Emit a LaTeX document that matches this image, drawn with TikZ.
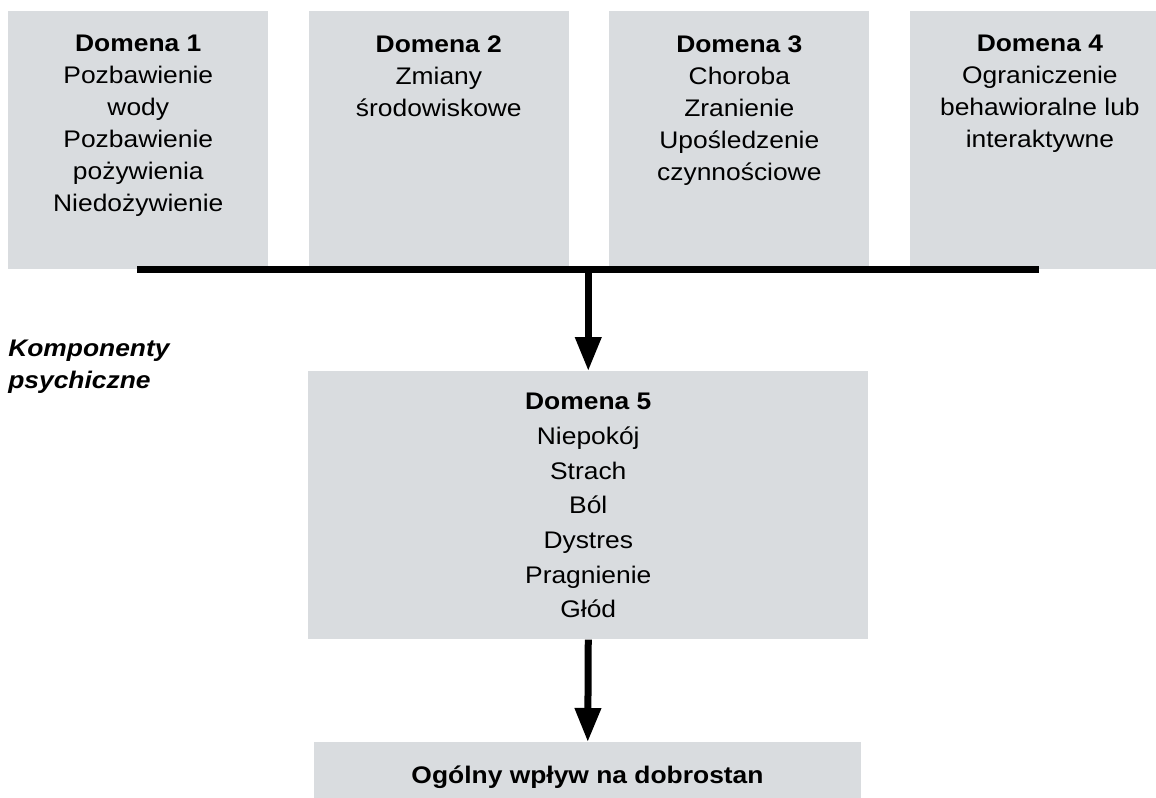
\documentclass[tikz,border=0pt]{standalone}
\usepackage{fontspec}
\setmainfont[FakeStretch=1.1]{Liberation Sans}
\usetikzlibrary{positioning,arrows.meta}
\definecolor{boxgray}{RGB}{217,220,223}

\begin{document}
\begin{tikzpicture}[
  x=0.75pt, y=-0.75pt,
  node distance=30pt and 30pt,
  dombox/.style={fill=boxgray,minimum width=195pt,minimum height=193.5pt,inner sep=0pt,anchor=north west},
  domtext/.style={align=center,inner sep=0pt,anchor=north,font=\fontsize{18pt}{24pt}\selectfont},
  flow/.style={line width=5.25pt},
  flowarrow/.style={line width=5.25pt,-{Triangle[width=18.75pt,length=25.5pt]}}
]
\useasboundingbox (0,0) rectangle (1156,797);
% top row
\node[dombox] (d1) at (8,11) {};
\node[dombox, right=of d1] (d2) {};
\node[dombox, right=of d2] (d3) {};
\node[dombox, right=of d3] (d4) {};
\node[domtext, below=18pt of d1.north] (t1) {\textbf{Domena 1}\\Pozbawienie\\wody\\Pozbawienie\\pożywienia\\Niedożywienie};
\node[domtext, below=18pt of d2.north] (t2) {\textbf{Domena 2}\\Zmiany\\środowiskowe};
\node[domtext, below=18pt of d3.north] (t3) {\textbf{Domena 3}\\Choroba\\Zranienie\\Upośledzenie\\czynnościowe};
\node[domtext, below=18pt of d4.north] (t4) {\textbf{Domena 4}\\Ograniczenie\\behawioralne lub\\interaktywne};
% middle
\node[dombox, minimum width=420pt, minimum height=201pt] (d5) at (308,371) {};
\node[domtext, below=16.5pt of d5.north, font=\fontsize{18pt}{26pt}\selectfont] (t5) {\textbf{Domena 5}\\Niepokój\\Strach\\Ból\\Dystres\\Pragnienie\\Głód};
\node[anchor=base west, inner sep=0pt, align=left, font=\fontsize{18pt}{24pt}\selectfont\bfseries\itshape] (komp) at (8,388) {Komponenty\\psychiczne};
% bottom
\node[dombox, minimum width=410.25pt, minimum height=45pt] (res) at (314,742) {};
\node[anchor=base, inner sep=0pt, font=\fontsize{18pt}{24pt}\selectfont\bfseries] (tres) at (587.5,783) {Ogólny wpływ na dobrostan};
% connectors
\coordinate (barL) at (137,269.5);
\coordinate (barR) at (1039,269.5);
\coordinate (barM) at (d5.north |- barL);
\draw[flow] (barL) -- (barR);
\draw[flowarrow] (barM) -- (d5.north);
\draw[flowarrow] (d5.south) -- (res.north);
\end{tikzpicture}
\end{document}
